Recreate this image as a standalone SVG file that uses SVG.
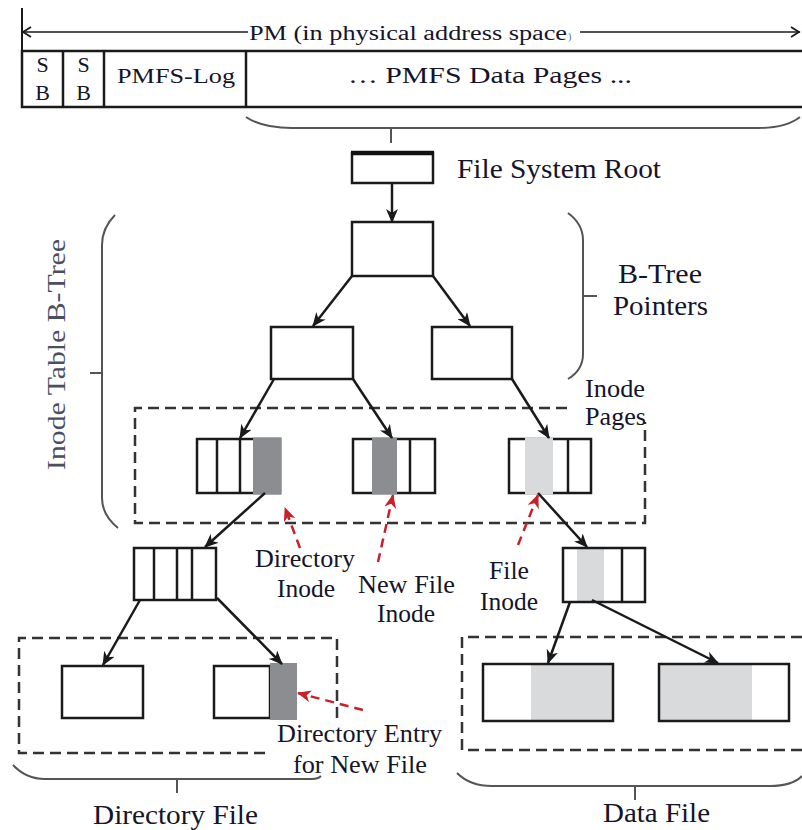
<svg xmlns="http://www.w3.org/2000/svg" width="802" height="830" viewBox="0 0 802 830">
  <style>
    .t { font-family: "Liberation Serif", "Times New Roman", serif; fill: #15152a; }
    .box { fill: #ffffff; stroke: #1a1a1a; stroke-width: 2.5; }
    .div { stroke: #1a1a1a; stroke-width: 2.5; }
    .dark { fill: #8c8d90; }
    .light { fill: #d9dadb; }
    .dash { fill: none; stroke: #333333; stroke-width: 2.5; stroke-dasharray: 11 6; }
    .brace { fill: none; stroke: #555555; stroke-width: 2; }
    .edge { fill: none; stroke: #1a1a1a; stroke-width: 2.5; marker-end: url(#arr); }
    .ref { fill: none; stroke: #c8202a; stroke-width: 2.5; stroke-dasharray: 9 6; marker-end: url(#arrRed); }
  </style>
  <defs>
    <marker id="arr" markerUnits="userSpaceOnUse" viewBox="0 0 14 12" markerWidth="14" markerHeight="12" refX="13" refY="6" orient="auto">
      <path d="M0,0 L14,6 L0,12 L4,6 z" fill="#1a1a1a"/>
    </marker>
    <marker id="arrRed" markerUnits="userSpaceOnUse" viewBox="0 0 14 12" markerWidth="14" markerHeight="12" refX="13" refY="6" orient="auto">
      <path d="M0,0 L14,6 L0,12 L4,6 z" fill="#c8202a"/>
    </marker>
  </defs>

  <!-- physical memory layout strip -->
  <g id="pm-layout">
    <line x1="22" y1="8" x2="22" y2="107" stroke="#1a1a1a" stroke-width="2"/>
    <line x1="22" y1="32" x2="248" y2="32" stroke="#1a1a1a" stroke-width="1.6"/>
    <line x1="580" y1="32" x2="800" y2="32" stroke="#1a1a1a" stroke-width="1.6"/>
    <path d="M31,27 L23,32 L31,37" fill="none" stroke="#1a1a1a" stroke-width="1.8"/>
    <path d="M791,27 L799,32 L791,37" fill="none" stroke="#1a1a1a" stroke-width="1.8"/>
    <text class="t" x="249" y="40" font-size="20" textLength="318" lengthAdjust="spacingAndGlyphs">PM (in physical address space</text>
    <text class="t" x="568" y="40" font-size="10" style="fill:#4a6aa0">)</text>
    <path d="M802,51 H22 V107 H802" fill="none" stroke="#1a1a1a" stroke-width="2.5"/>
    <line class="div" x1="63" y1="51" x2="63" y2="107"/>
    <line class="div" x1="104" y1="51" x2="104" y2="107"/>
    <line class="div" x1="246" y1="51" x2="246" y2="107"/>
    <text class="t" x="42.5" y="72" font-size="22" text-anchor="middle">S</text>
    <text class="t" x="42.5" y="100" font-size="22" text-anchor="middle">B</text>
    <text class="t" x="83.5" y="72" font-size="22" text-anchor="middle">S</text>
    <text class="t" x="83.5" y="100" font-size="22" text-anchor="middle">B</text>
    <text class="t" x="117" y="83" font-size="22" textLength="118" lengthAdjust="spacingAndGlyphs">PMFS-Log</text>
    <text class="t" x="348" y="83" font-size="24" textLength="284" lengthAdjust="spacingAndGlyphs">… PMFS Data Pages ...</text>
    <path class="brace" d="M246,117 Q262,128 292,128 H758 Q786,128 800,117"/>
    <line x1="391" y1="128" x2="391" y2="143" stroke="#555555" stroke-width="2"/>
  </g>

  <!-- brackets and group labels -->
  <g id="inode-table-label">
    <path class="brace" d="M115,215 Q102,228 102,245 V498 Q102,515 118,528"/>
    <line x1="90" y1="373" x2="102" y2="373" stroke="#555555" stroke-width="2"/>
    <text class="t" transform="translate(65,470) rotate(-90)" font-size="26" textLength="231" lengthAdjust="spacingAndGlyphs" style="fill:#4a5062">Inode Table B-Tree</text>
  </g>
  <g id="btree-pointers-label">
    <path class="brace" d="M568,213 Q583,224 583,240 V354 Q583,370 568,379"/>
    <line x1="583" y1="296" x2="597" y2="296" stroke="#555555" stroke-width="2"/>
    <text class="t" x="618" y="283" font-size="27" textLength="84" lengthAdjust="spacingAndGlyphs">B-Tree</text>
    <text class="t" x="613" y="315" font-size="27" textLength="95" lengthAdjust="spacingAndGlyphs">Pointers</text>
  </g>

  <!-- file system root -->
  <g id="fs-root">
    <rect class="box" x="352" y="153" width="81" height="30" stroke-width="3"/>
    <line x1="351" y1="153" x2="434" y2="153" stroke="#111111" stroke-width="4.5"/>
    <text class="t" x="457" y="178" font-size="27" textLength="204" lengthAdjust="spacingAndGlyphs">File System Root</text>
  </g>

  <!-- B-tree interior nodes -->
  <g id="btree-top"><rect class="box" x="352" y="222" width="81" height="54"/></g>
  <g id="btree-left"><rect class="box" x="271" y="327" width="82" height="52"/></g>
  <g id="btree-right"><rect class="box" x="432" y="327" width="80" height="52"/></g>

  <!-- inode pages -->
  <g id="inode-pages">
    <path class="dash" d="M567,408 H135 V523 H645 V422"/>
    <text class="t" x="585" y="397" font-size="25" textLength="60" lengthAdjust="spacingAndGlyphs">Inode</text>
    <text class="t" x="585" y="425" font-size="25" textLength="61" lengthAdjust="spacingAndGlyphs">Pages</text>
  </g>
  <g id="inode-page-dir">
    <rect class="box" x="197" y="439" width="83" height="54"/>
    <line class="div" x1="217" y1="439" x2="217" y2="493"/>
    <line class="div" x1="240" y1="439" x2="240" y2="493"/>
    <rect class="dark" x="253" y="437.5" width="28.5" height="57"/>
  </g>
  <g id="inode-page-newfile">
    <rect class="box" x="353" y="439" width="82" height="54"/>
    <line class="div" x1="410" y1="439" x2="410" y2="493"/>
    <rect class="dark" x="372" y="437.5" width="25" height="57"/>
  </g>
  <g id="inode-page-file">
    <rect class="box" x="509" y="439" width="82" height="54"/>
    <line class="div" x1="568" y1="439" x2="568" y2="493"/>
    <rect class="light" x="525" y="437.5" width="28" height="57"/>
  </g>

  <!-- directory file -->
  <g id="dir-index">
    <rect class="box" x="134" y="548" width="82" height="52"/>
    <line class="div" x1="154" y1="548" x2="154" y2="600"/>
    <line class="div" x1="177" y1="548" x2="177" y2="600"/>
    <line class="div" x1="192" y1="548" x2="192" y2="600"/>
  </g>
  <g id="dir-file">
    <path class="dash" d="M265,753 H19 V638 H337 V720"/>
    <path class="brace" d="M13,765 Q26,779 45,779 H312 Q318,779 321,776"/>
    <line x1="177" y1="779" x2="177" y2="793" stroke="#555555" stroke-width="2"/>
    <text class="t" x="93" y="824" font-size="27" textLength="165" lengthAdjust="spacingAndGlyphs">Directory File</text>
  </g>
  <g id="dir-block-1"><rect class="box" x="62" y="666" width="81" height="52"/></g>
  <g id="dir-block-2">
    <rect class="box" x="214" y="666" width="56" height="52"/>
    <rect class="dark" x="270" y="663" width="27" height="57"/>
  </g>

  <!-- data file -->
  <g id="file-index">
    <rect class="light" x="577" y="548" width="27" height="54"/>
    <rect class="box" x="563" y="548" width="82" height="54" style="fill:none"/>
    <line class="div" x1="622" y1="548" x2="622" y2="602"/>
  </g>
  <g id="data-file">
    <path class="dash" d="M802,637 H462 V750 H802"/>
    <path class="brace" d="M457,773 Q470,786 492,786 H770 Q792,786 802,776"/>
    <line x1="635" y1="786" x2="635" y2="800" stroke="#555555" stroke-width="2"/>
    <text class="t" x="603" y="822" font-size="27" textLength="107" lengthAdjust="spacingAndGlyphs">Data File</text>
  </g>
  <g id="data-block-1">
    <rect fill="#ffffff" x="483" y="664" width="130" height="57"/>
    <rect class="light" x="531" y="664" width="82" height="57"/>
    <rect class="box" x="483" y="664" width="130" height="57" style="fill:none"/>
  </g>
  <g id="data-block-2">
    <rect fill="#ffffff" x="659" y="664" width="130" height="57"/>
    <rect class="light" x="659" y="664" width="93" height="57"/>
    <rect class="box" x="659" y="664" width="130" height="57" style="fill:none"/>
  </g>

  <!-- callout labels -->
  <g id="label-dir-inode">
    <text class="t" x="255" y="567" font-size="25" textLength="100" lengthAdjust="spacingAndGlyphs">Directory</text>
    <text class="t" x="277" y="597" font-size="25" textLength="58" lengthAdjust="spacingAndGlyphs">Inode</text>
  </g>
  <g id="label-newfile-inode">
    <text class="t" x="358" y="593" font-size="25" textLength="97" lengthAdjust="spacingAndGlyphs">New File</text>
    <text class="t" x="377" y="622" font-size="25" textLength="58" lengthAdjust="spacingAndGlyphs">Inode</text>
  </g>
  <g id="label-file-inode">
    <text class="t" x="489" y="579" font-size="25" textLength="40" lengthAdjust="spacingAndGlyphs">File</text>
    <text class="t" x="480" y="610" font-size="25" textLength="58" lengthAdjust="spacingAndGlyphs">Inode</text>
  </g>
  <g id="label-dir-entry">
    <text class="t" x="277" y="742" font-size="25" textLength="165" lengthAdjust="spacingAndGlyphs">Directory Entry</text>
    <text class="t" x="293" y="773" font-size="25" textLength="134" lengthAdjust="spacingAndGlyphs">for New File</text>
  </g>

  <!-- connectors -->
  <g id="connectors">
    <line class="edge" x1="392" y1="183" x2="392" y2="222"/>
    <line class="edge" x1="352" y1="276" x2="313" y2="326"/>
    <line class="edge" x1="433" y1="276" x2="470" y2="326"/>
    <line class="edge" x1="274" y1="379" x2="240" y2="438"/>
    <line class="edge" x1="353" y1="379" x2="392" y2="438"/>
    <line class="edge" x1="512" y1="379" x2="549" y2="438"/>
    <line class="edge" x1="265" y1="493" x2="205" y2="547"/>
    <line class="edge" x1="538" y1="493" x2="587" y2="547"/>
    <line class="edge" x1="140" y1="600" x2="103" y2="665"/>
    <line class="edge" x1="217" y1="598" x2="282" y2="664"/>
    <line class="edge" x1="570" y1="602" x2="548" y2="663"/>
    <line class="edge" x1="592" y1="600" x2="718" y2="663"/>
    <line class="ref" x1="300" y1="548" x2="285" y2="508"/>
    <line class="ref" x1="378" y1="562" x2="393" y2="495"/>
    <line class="ref" x1="518" y1="545" x2="538" y2="495"/>
    <line class="ref" x1="363" y1="710" x2="298" y2="693"/>
  </g>
</svg>
